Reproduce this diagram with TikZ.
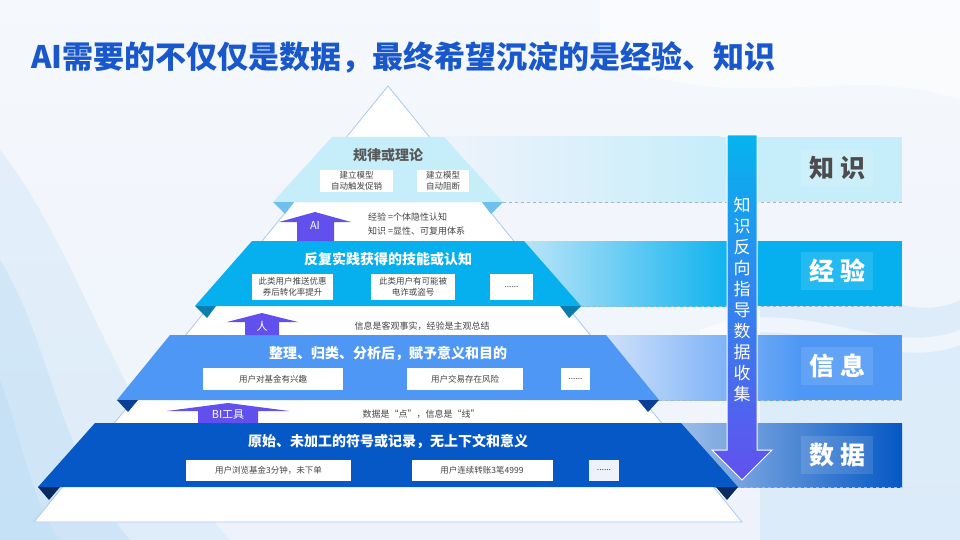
\documentclass[tikz,border=0pt]{standalone}
\usepackage{fontspec}
\setmainfont{Noto Sans CJK SC}
\definecolor{titleblue}{HTML}{1858CC}
\definecolor{kcol}{HTML}{C6EDFA}
\definecolor{ecol}{HTML}{06B0EE}
\definecolor{icol}{HTML}{4E97F5}
\definecolor{dcol}{HTML}{0558C5}
\definecolor{ktab}{HTML}{6FC0EE}
\definecolor{etab}{HTML}{0A7DAE}
\definecolor{itab}{HTML}{0B3F94}
\definecolor{dtab}{HTML}{0A2A60}
\definecolor{apurple}{HTML}{6250EE}
\definecolor{pyrline}{HTML}{A9C9F2}
\definecolor{txtgray}{HTML}{444444}
\definecolor{bg}{HTML}{EEF3FB}
\definecolor{wash}{HTML}{B4DAF6}
\tikzset{
  whitebox/.style={fill=white, inner sep=0pt, text=txtgray, font=\fontsize{8.5}{10.5}\selectfont, align=center},
  bandtitle/.style={font=\fontsize{14}{16}\selectfont\bfseries, text=white},
  gaptext/.style={font=\fontsize{9}{13}\selectfont, text=txtgray, inner sep=0pt},
  uparrow/.style={fill=apurple, draw=none},
  arrowlabel/.style={font=\fontsize{11}{13}\selectfont, text=white, inner sep=0pt},
  sidelabel/.style={font=\fontsize{25}{27}\selectfont\bfseries, fill=white, fill opacity=0.12, text opacity=1, inner sep=3pt, minimum width=72pt, minimum height=38pt},
  sepline/.style={draw=gray!60, dashed, line width=0.8pt}
}
\begin{document}
\begin{tikzpicture}[x=1pt,y=-1pt]
\useasboundingbox (0,0) rectangle (960,540);
% background
\shade[top color=bg!60!white, bottom color=bg] (0,0) rectangle (960,540);
\fill[wash, opacity=0.25] (0,150) .. controls (80,250) and (120,420) .. (230,540) -- (0,540) -- cycle;
\fill[wash, opacity=0.35] (0,260) .. controls (50,340) and (60,460) .. (130,540) -- (0,540) -- cycle;
\fill[wash, opacity=0.35] (0,380) .. controls (20,430) and (30,500) .. (60,540) -- (0,540) -- cycle;
\fill[white, opacity=0.5] (600,60) .. controls (750,120) and (850,60) .. (960,100) -- (960,0) -- (600,0) -- cycle;
\fill[wash, opacity=0.3] (760,300) .. controls (840,260) and (900,330) .. (960,300) -- (960,540) -- (760,540) -- cycle;
\fill[white, opacity=0.5] (700,330) .. controls (800,290) and (880,360) .. (960,330) -- (960,345) .. controls (880,375) and (800,305) .. (700,345) -- cycle;

% right side bands
\shade[left color=bg, right color=kcol] (445,137) rectangle (720,202);
\fill[kcol] (720,137) rectangle (902,202);
\shade[left color=ecol!22!bg, right color=ecol] (524,241) rectangle (740,306);
\fill[ecol] (740,241) rectangle (902,306);
\shade[left color=icol!20!bg, right color=icol] (606,335) rectangle (800,400);
\fill[icol] (800,335) rectangle (902,400);
\shade[left color=dcol!35!bg, right color=dcol] (681,423) rectangle (902,487);

\draw[sepline] (503,202) -- (902,202);
\draw[sepline] (581,306) -- (902,306);
\draw[sepline] (659,400) -- (902,400);
\draw[sepline] (738,487) -- (902,487);

\node[sidelabel, text=black!70] (lk) at (837,168) {知\hspace{6pt}识};
\node[sidelabel, text=white] (le) at (837,271) {经\hspace{6pt}验};
\node[sidelabel, text=white] (li) at (837,366) {信\hspace{6pt}息};
\node[sidelabel, text=white] (ld) at (837,455) {数\hspace{6pt}据};

% pyramid
\draw[pyrline, fill=white, line width=0.8pt] (388,86) -- (742,522) -- (34,522) -- cycle;

% band 1 (knowledge)
\fill[kcol] (332,137) -- (444,137) -- (503,202) -- (273,202) -- cycle;
\fill[ktab] (273,202) -- (294,202) -- (285,214) -- cycle;
\fill[ktab] (503,202) -- (482,202) -- (491,214) -- cycle;
% band 2 (experience)
\fill[etab] (195,306) -- (216,306) -- (207,318) -- cycle;
\fill[ecol] (252,241) -- (524,241) -- (581,306) -- (195,306) -- cycle;
\fill[etab] (581,306) -- (560,306) -- (569,318) -- cycle;
% band 3 (information)
\fill[icol] (170,335) -- (606,335) -- (659,400) -- (117,400) -- cycle;
\fill[itab] (117,400) -- (138,400) -- (128,412) -- cycle;
\fill[itab] (659,400) -- (638,400) -- (648,412) -- cycle;
% band 4 (data)
\fill[dcol] (95,423) -- (681,423) -- (738,487) -- (38,487) -- cycle;
\fill[dtab] (38,487) -- (60,487) -- (49,500) -- cycle;
\fill[dtab] (738,487) -- (716,487) -- (727,500) -- cycle;

% band titles
\node[bandtitle, text=black!65] (t1) at (388,155) {规律或理论};
\node[bandtitle] (t2) at (388,259) {反复实践获得的技能或认知};
\node[bandtitle] (t3) at (388,353) {整理、归类、分析后，赋予意义和目的};
\node[bandtitle] (t4) at (388,441) {原始、未加工的符号或记录，无上下文和意义};

% boxes band 1
\node[whitebox, minimum width=73pt, minimum height=22pt] (b11) at (356.5,181) {建立模型\\自动触发促销};
\node[whitebox, minimum width=52pt, minimum height=22pt] (b12) at (443,181) {建立模型\\自动阻断};
% boxes band 2
\node[whitebox, minimum width=81pt, minimum height=26pt] (b21) at (292.5,287) {此类用户推送优惠\\券后转化率提升};
\node[whitebox, minimum width=84pt, minimum height=26pt] (b22) at (413,287) {此类用户有可能被\\电诈或盗号};
\node[whitebox, minimum width=43pt, minimum height=26pt] (b23) at (511.5,287) {......};
% boxes band 3
\node[whitebox, minimum width=140pt, minimum height=22pt] (b31) at (273,379) {用户对基金有兴趣};
\node[whitebox, minimum width=116pt, minimum height=22pt] (b32) at (465,379) {用户交易存在风险};
\node[whitebox, minimum width=29pt, minimum height=22pt] (b33) at (575.5,379) {......};
% boxes band 4
\node[whitebox, minimum width=165pt, minimum height=21pt] (b41) at (268.5,470.5) {用户浏览基金3分钟，未下单};
\node[whitebox, minimum width=141pt, minimum height=21pt] (b42) at (482,470.5) {用户连续转账3笔4999};
\node[whitebox, fill=bg, minimum width=30pt, minimum height=21pt] (b43) at (604,470.5) {......};

% up arrows in gaps
\fill[uparrow] (315,212) -- (351,222) -- (334,222) -- (334,241) -- (297,241) -- (297,222) -- (279,222) -- cycle;
\node[arrowlabel] (aai) at (315,225) {AI};
\fill[uparrow] (262,313) -- (298,322) -- (279,322) -- (279,335) -- (245,335) -- (245,322) -- (227,322) -- cycle;
\node[arrowlabel] (aren) at (262,326) {人};
\fill[uparrow] (228,403) -- (289,411) -- (258,411) -- (258,423) -- (198,423) -- (198,411) -- (167,411) -- cycle;
\node[arrowlabel] (abi) at (228,415) {BI工具};

% gap texts
\node[gaptext, anchor=west] (g1a) at (368,217) {经验 =个体隐性认知};
\node[gaptext, anchor=west] (g1b) at (368,231) {知识 =显性、可复用体系};
\node[gaptext] (g2) at (422,326) {信息是客观事实，经验是主观总结};
\node[gaptext] (g3) at (421,414) {数据是“点”，信息是“线”};

% vertical arrow
\shade[top color=ecol!95!cyan, bottom color=apurple, draw=white, line width=1pt]
  (727,135) -- (757,135) -- (757,450) -- (772,450) -- (742,480) -- (712,450) -- (727,450) -- cycle;
\node[font=\fontsize{17}{21}\selectfont, text=white, align=center, inner sep=0pt] (vt) at (742,300)
  {知\\识\\反\\向\\指\\导\\数\\据\\收\\集};

% title
\node[anchor=west, font=\fontsize{31}{34}\selectfont\bfseries, text=titleblue, inner sep=0pt] (title) at (31,57)
  {AI需要的不仅仅是数据，最终希望沉淀的是经验、知识};
\end{tikzpicture}
\end{document}
